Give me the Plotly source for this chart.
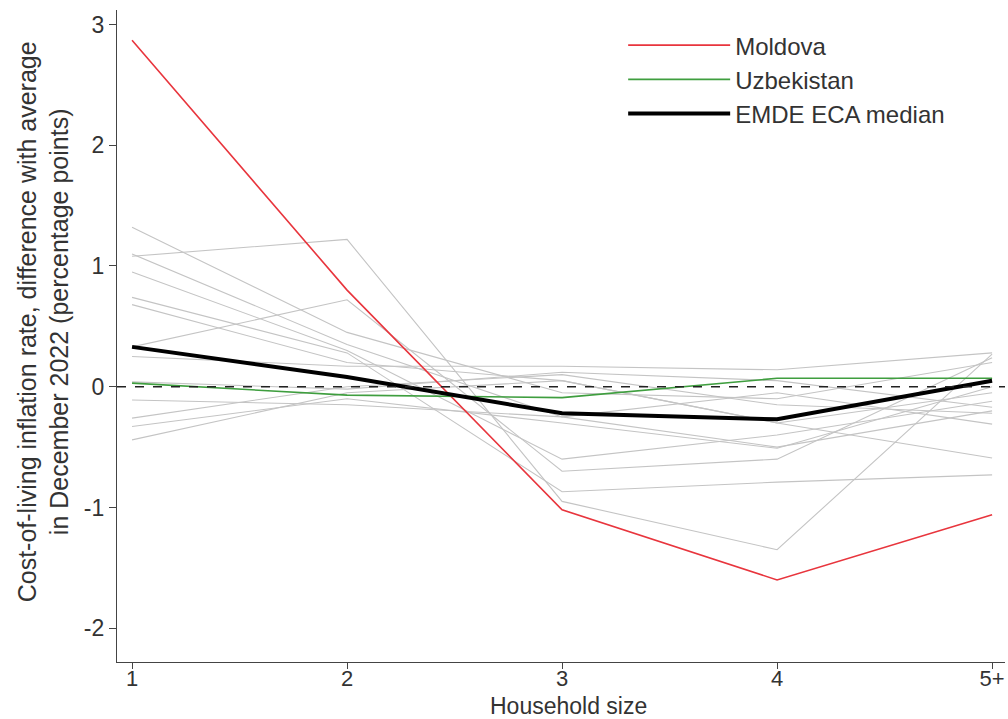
import plotly.graph_objects as go

categories = [1, 2, 3, 4, 5]
tick_labels = ["1", "2", "3", "4", "5+"]

moldova = [2.87, 0.80, -1.02, -1.60, -1.06]
uzbekistan = [0.03, -0.07, -0.09, 0.07, 0.07]
emde_median = [0.33, 0.08, -0.22, -0.27, 0.05]

gray_series = [
    [1.08, 1.22, -0.95, -1.35, 0.27],
    [1.32, 0.45, -0.05, -0.10, 0.20],
    [1.10, 0.35, -0.25, -0.50, -0.20],
    [0.95, 0.30, -0.60, -0.40, -0.12],
    [0.74, 0.28, -0.87, -0.79, -0.73],
    [0.68, 0.20, 0.05, -0.30, -0.59],
    [0.33, 0.72, -0.70, -0.60, 0.24],
    [0.25, 0.17, 0.17, 0.14, 0.28],
    [0.04, -0.02, 0.12, 0.05, -0.17],
    [-0.11, -0.15, -0.25, -0.05, -0.31],
    [-0.26, 0.00, 0.10, -0.15, -0.22],
    [-0.33, -0.10, -0.30, -0.51, 0.00],
    [-0.44, -0.05, 0.05, -0.30, -0.05],
]

y_ticks = [-2, -1, 0, 1, 2, 3]
y_tick_labels = ["-2", "-1", "0", "1", "2", "3"]

y_title = "Cost-of-living inflation rate, difference with average<br>in December 2022 (percentage points)"
x_title = "Household size"

fig = go.Figure()

for s in gray_series:
    fig.add_trace(go.Scatter(x=categories, y=s, mode="lines",
                             line=dict(color="#c4c4c4", width=1.1),
                             showlegend=False, hoverinfo="skip"))

fig.add_trace(go.Scatter(x=categories, y=moldova, mode="lines", name="Moldova",
                         line=dict(color="#e8353d", width=1.6)))
fig.add_trace(go.Scatter(x=categories, y=uzbekistan, mode="lines", name="Uzbekistan",
                         line=dict(color="#3f9e3f", width=1.6)))
fig.add_trace(go.Scatter(x=categories, y=emde_median, mode="lines", name="EMDE ECA median",
                         line=dict(color="#000000", width=4)))

fig.add_shape(type="line", xref="paper", yref="y", x0=0, x1=1, y0=0, y1=0,
              line=dict(color="#222222", width=1.5, dash="dash"), layer="above")

font_family = "Liberation Sans, Arial, sans-serif"
txt = "#333333"

fig.add_annotation(text=y_title, xref="paper", yref="paper", x=0, y=0.521,
                   xanchor="center", yanchor="middle", xshift=-74, textangle=-90,
                   showarrow=False, font=dict(size=25, color=txt))
fig.add_annotation(text=x_title, xref="paper", yref="paper", x=0.509, y=0,
                   xanchor="center", yanchor="bottom", yshift=-59,
                   showarrow=False, font=dict(size=23, color=txt))

fig.update_layout(
    width=1008, height=719,
    margin=dict(l=117, r=3, t=10, b=57, autoexpand=False),
    plot_bgcolor="white", paper_bgcolor="white",
    font=dict(family=font_family, size=24, color=txt),
    legend=dict(x=0.57, y=0.98, xanchor="left", yanchor="top",
                font=dict(size=24, color=txt),
                itemwidth=102, bgcolor="rgba(0,0,0,0)", tracegroupgap=0),
    xaxis=dict(range=[0.93, 5.06], tickvals=categories, ticktext=tick_labels,
               showgrid=False, zeroline=False, showline=True, linecolor="#444444",
               linewidth=1.2, ticks="outside", ticklen=6, tickcolor="#444444",
               tickfont=dict(size=22, color=txt), automargin=False,
               ticklabelstandoff=-10),
    yaxis=dict(range=[-2.28, 3.12], tickvals=y_ticks, ticktext=y_tick_labels,
               showgrid=False, zeroline=False, showline=True, linecolor="#444444",
               linewidth=1.2, ticks="outside", ticklen=7, tickcolor="#444444",
               tickfont=dict(size=23, color=txt), automargin=False),
)

fig.write_html("out.html", config={"displayModeBar": False},
               post_script="document.body.style.margin='0';document.body.style.overflow='hidden';")
